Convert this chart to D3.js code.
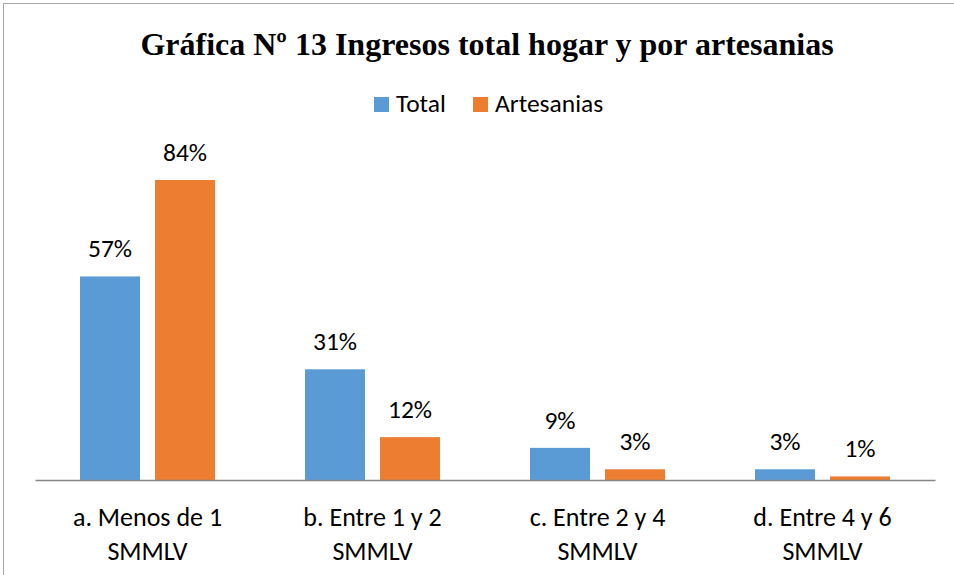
<!DOCTYPE html>
<html>
<head>
<meta charset="utf-8">
<script src="https://cdn.jsdelivr.net/npm/d3@7"></script>
<style>
  body { margin: 0; background: #fff; }
  svg { display: block; }
</style>
</head>
<body>
<div id="chart"></div>
<script>
// datos
var categorias = ["a. Menos de 1|SMMLV", "b. Entre 1 y 2|SMMLV", "c. Entre 2 y 4|SMMLV", "d. Entre 4 y 6|SMMLV"];
var series = ["Total", "Artesanias"];
var total = [57, 31, 9, 3];
var artesanias = [84, 12, 3, 1];
var colores = ["#5b9bd5", "#ed7d31"];

var width = 954, height = 575;
var svg = d3.select("#chart").append("svg")
  .attr("width", width)
  .attr("height", height);

// marco
svg.append("rect")
  .attr("x", 3.5).attr("y", 3.5)
  .attr("width", width + 10).attr("height", height + 10)
  .attr("fill", "none")
  .attr("stroke", "#a6a6a6")
  .attr("stroke-width", 1);

// titulo
svg.append("text")
  .attr("x", 487).attr("y", 55)
  .attr("text-anchor", "middle")
  .attr("font-family", "'Liberation Serif', 'Times New Roman', serif")
  .attr("font-weight", "bold")
  .attr("font-size", "32px")
  .attr("fill", "#000")
  .text("Gráfica Nº 13 Ingresos total hogar y por artesanias");

var x0 = d3.scaleBand().domain(categorias).range([35, 935]).paddingInner(0).paddingOuter(0);
var x1 = d3.scaleBand().domain(series).range([45, 180]).paddingInner(0.2);
var y = d3.scaleLinear().domain([0, 84]).range([480, 180]);

var datos = categorias.map(function(c, i) {
  return { cat: c, vals: [total[i], artesanias[i]] };
});

var font = "Carlito, Calibri, 'Liberation Sans', sans-serif";

var g = svg.append("g");
var grupo = g.selectAll("g.cat").data(datos).enter().append("g")
  .attr("class", "cat")
  .attr("transform", function(d) { return "translate(" + x0(d.cat) + ",0)"; });

grupo.selectAll("rect").data(function(d) {
    return d.vals.map(function(v, j) { return { s: series[j], v: v, j: j }; });
  }).enter().append("rect")
  .attr("x", function(d) { return x1(d.s); })
  .attr("y", function(d) { return y(d.v); })
  .attr("width", x1.bandwidth())
  .attr("height", function(d) { return y(0) - y(d.v); })
  .attr("fill", function(d) { return colores[d.j]; });

grupo.selectAll("text.val").data(function(d) {
    return d.vals.map(function(v, j) { return { s: series[j], v: v }; });
  }).enter().append("text")
  .attr("class", "val")
  .attr("x", function(d) { return x1(d.s) + x1.bandwidth() / 2; })
  .attr("y", function(d) { return y(d.v) - 19; })
  .attr("text-anchor", "middle")
  .attr("font-family", font)
  .attr("font-size", "25.5px")
  .attr("fill", "#000")
  .text(function(d) { return d.v + "%"; });

// eje
var eje = svg.append("g")
  .attr("transform", "translate(0," + y(0) + ")")
  .call(d3.axisBottom(x0).tickSize(0).tickFormat(""));
eje.select(".domain").attr("stroke", "#868686").attr("stroke-width", 1.3);

var etiquetas = svg.append("g").selectAll("text").data(categorias).enter().append("text")
  .attr("x", function(d) { return x0(d) + x0.bandwidth() / 2; })
  .attr("y", 526)
  .attr("text-anchor", "middle")
  .attr("font-family", font)
  .attr("font-size", "26px")
  .attr("fill", "#000");
etiquetas.each(function(d) {
  var partes = d.split("|");
  var t = d3.select(this);
  partes.forEach(function(p, i) {
    t.append("tspan")
      .attr("x", x0(d) + x0.bandwidth() / 2)
      .attr("dy", i == 0 ? 0 : 34)
      .text(p);
  });
});

// leyenda
var leyenda = svg.append("g");
var posLeyenda = [374, 473];
series.forEach(function(s, i) {
  leyenda.append("rect")
    .attr("x", posLeyenda[i]).attr("y", 97)
    .attr("width", 15).attr("height", 15)
    .attr("fill", colores[i]);
  leyenda.append("text")
    .attr("x", posLeyenda[i] + 22).attr("y", 112)
    .attr("font-family", font)
    .attr("font-size", "25.5px")
    .attr("fill", "#000")
    .text(s);
});
</script>
</body>
</html>
